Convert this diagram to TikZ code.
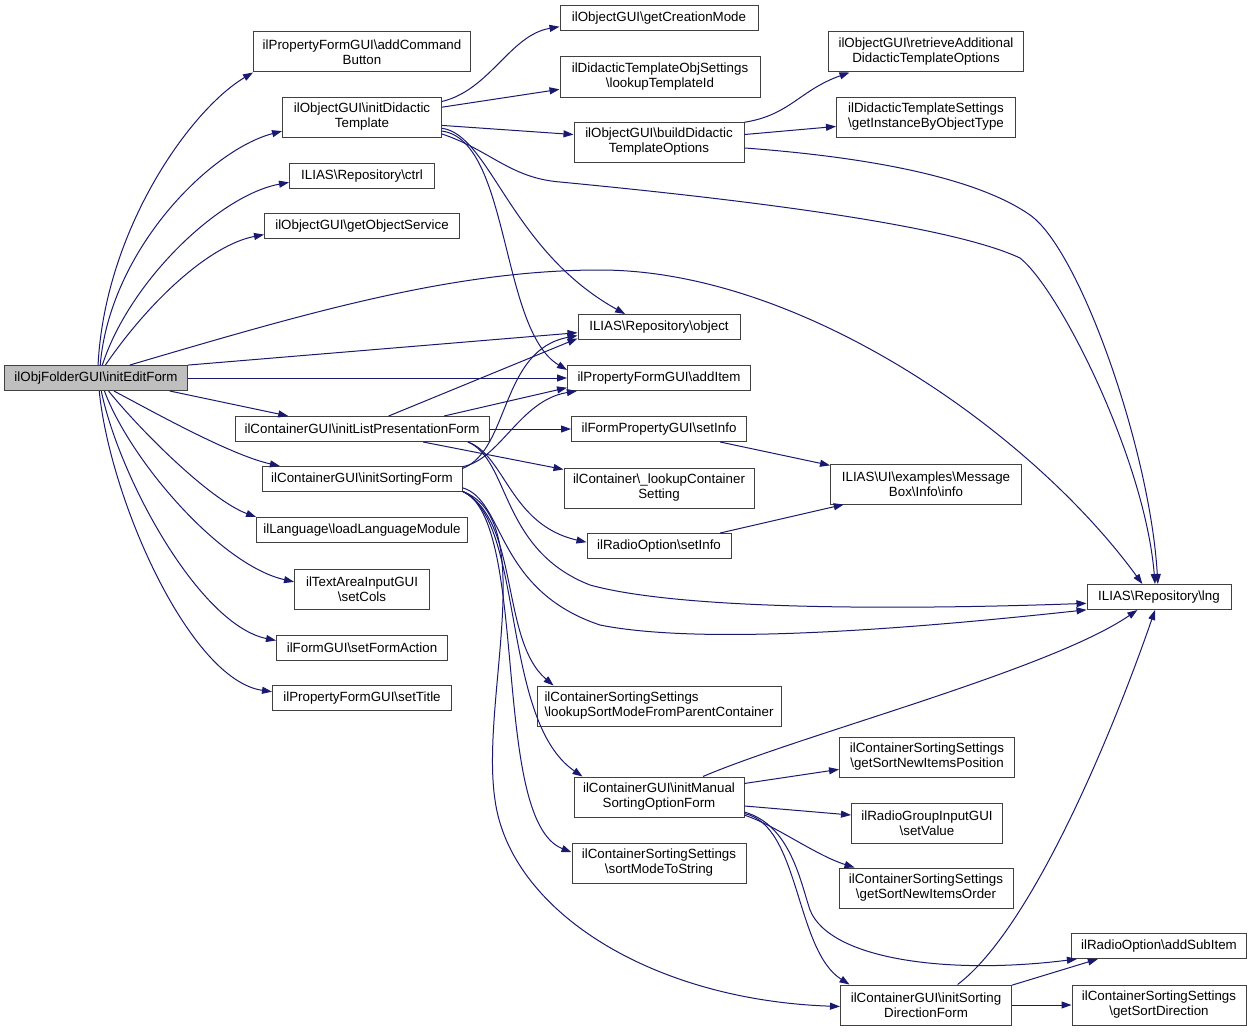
\documentclass[tikz,border=0pt]{standalone}
\usepackage{tikz}
\usepackage{xcolor}
\usepackage{fontspec}
\setmainfont{Liberation Sans}
\usetikzlibrary{arrows.meta}
\definecolor{link}{HTML}{191970}
\definecolor{frame}{HTML}{404040}
\definecolor{shade}{HTML}{BFBFBF}

\begin{document}
\begin{tikzpicture}[x=0.75pt,y=-0.75pt,
		fn/.style={draw=frame,fill=white,line width=0.75pt,inner sep=0pt,align=center,font=\fontsize{10}{11.25}\selectfont,minimum width=#1*0.75pt,minimum height=18.75pt},
		fnn/.style={fn=#1,minimum height=30pt},
		call/.style={draw=link,line width=0.75pt,-{Triangle[length=7.5pt,width=5.25pt]}}]
		\useasboundingbox [fill=white] (0,0) rectangle (1252,1031);
		%
		\node [fn=183,fill=shade] (root) at (96,378) {ilObjFolderGUI\textbackslash initEditForm};
		\node [fnn=217] (cmdbtn) at (362,52) {ilPropertyFormGUI\textbackslash addCommand\\Button};
		\node [fnn=159] (didactic) at (362,117) {ilObjectGUI\textbackslash initDidactic\\Template};
		\node [fn=145] (ctrl) at (362,176) {ILIAS\textbackslash Repository\textbackslash ctrl};
		\node [fn=195] (objsrv) at (362,226) {ilObjectGUI\textbackslash getObjectService};
		\node [fn=254] (listpres) at (362,429) {ilContainerGUI\textbackslash initListPresentationForm};
		\node [fn=200] (sortform) at (362,479) {ilContainerGUI\textbackslash initSortingForm};
		\node [fn=211] (langmod) at (362,530) {ilLanguage\textbackslash loadLanguageModule};
		\node [fnn=135] (setcols) at (362,589) {ilTextAreaInputGUI\\\textbackslash setCols};
		\node [fn=171] (formaction) at (362,648) {ilFormGUI\textbackslash setFormAction};
		\node [fn=179] (settitle) at (362,698) {ilPropertyFormGUI\textbackslash setTitle};
		%
		\node [fn=198] (creation) at (659,18) {ilObjectGUI\textbackslash getCreationMode};
		\node [fnn=200] (tmplid) at (660,77) {ilDidacticTemplateObjSettings\\\textbackslash lookupTemplateId};
		\node [fnn=170] (builddid) at (659,142) {ilObjectGUI\textbackslash buildDidactic\\TemplateOptions};
		\node [fn=162] (object) at (659,327) {ILIAS\textbackslash Repository\textbackslash object};
		\node [fn=183] (additem) at (659,378) {ilPropertyFormGUI\textbackslash addItem};
		\node [fn=175] (setinfo) at (659,429) {ilFormPropertyGUI\textbackslash setInfo};
		\node [fnn=190] (lookupcont) at (659,488) {ilContainer\textbackslash\_lookupContainer\\Setting};
		\node [fn=144] (radioinfo) at (659,546) {ilRadioOption\textbackslash setInfo};
		\node [fnn=244,align=left] (lookupsort) at (659,706) {ilContainerSortingSettings\\\textbackslash lookupSortModeFromParentContainer};
		\node [fnn=170] (manual) at (659,797) {ilContainerGUI\textbackslash initManual\\SortingOptionForm};
		\node [fnn=174] (sortmode) at (659,863) {ilContainerSortingSettings\\\textbackslash sortModeToString};
		%
		\node [fnn=195] (retrieve) at (926,52) {ilObjectGUI\textbackslash retrieveAdditional\\DidacticTemplateOptions};
		\node [fnn=179] (instance) at (926,117) {ilDidacticTemplateSettings\\\textbackslash getInstanceByObjectType};
		\node [fnn=191] (msgbox) at (926,484) {ILIAS\textbackslash UI\textbackslash examples\textbackslash Message\\Box\textbackslash Info\textbackslash info};
		\node [fnn=175] (newpos) at (927,757) {ilContainerSortingSettings\\\textbackslash getSortNewItemsPosition};
		\node [fnn=151] (setvalue) at (927,823) {ilRadioGroupInputGUI\\\textbackslash setValue};
		\node [fnn=174] (neworder) at (926,888) {ilContainerSortingSettings\\\textbackslash getSortNewItemsOrder};
		\node [fnn=171] (direction) at (926,1005) {ilContainerGUI\textbackslash initSorting\\DirectionForm};
		%
		\node [fn=144] (lng) at (1159,597) {ILIAS\textbackslash Repository\textbackslash lng};
		\node [fn=175] (subitem) at (1159,946) {ilRadioOption\textbackslash addSubItem};
		\node [fnn=174] (sortdir) at (1159,1005) {ilContainerSortingSettings\\\textbackslash getSortDirection};
		%
		\draw [call] (root.81) .. controls (105,230) and (190,110) .. (cmdbtn.south west);
		\draw [call] (root.72) .. controls (110,250) and (210,150) .. (didactic.190);
		\draw [call] (root.64) .. controls (130,280) and (220,195) .. (ctrl.185);
		\draw [call] (root.54) .. controls (150,300) and (210,245) .. (objsrv.185);
		\draw [call] (root.21) .. controls (300,315) and (450,270) .. (600,270) .. controls (800,270) and (1030,430) .. (lng.142);
		\draw [call] (root.8) -- (object.184);
		\draw [call] (root) -- (additem);
		\draw [call] (root.-10) -- (listpres.170);
		\draw [call] (root.-36) .. controls (150,410) and (230,455) .. (sortform.171);
		\draw [call] (root.-46) .. controls (140,430) and (210,500) .. (langmod.173);
		\draw [call] (root.-57) .. controls (130,460) and (220,565) .. (setcols.174);
		\draw [call] (root.-68) .. controls (120,480) and (200,625) .. (formaction.175);
		\draw [call] (root.-76) .. controls (110,500) and (190,680) .. (settitle.176);
		%
		\draw [call] (didactic.11) .. controls (490,90) and (510,35) .. (creation.185);
		\draw [call] (didactic.7) -- (tmplid.187);
		\draw [call] (didactic.-6) -- (builddid.175);
		\draw [call] (didactic.-8) .. controls (490,135) and (510,250) .. (object.159);
		\draw [call] (didactic.-10) .. controls (510,140) and (500,330) .. (additem.175);
		\draw [call] (didactic.-12) .. controls (490,150) and (510,178) .. (560,182) .. controls (800,205) and (960,230) .. (1020,258) .. controls (1060,290) and (1145,460) .. (lng.107);
		%
		\draw [call] (builddid.13) .. controls (790,115) and (800,90) .. (retrieve.195);
		\draw [call] (builddid.5) -- (instance.186);
		\draw [call] (builddid.-4) .. controls (880,158) and (980,180) .. (1030,215) .. controls (1080,250) and (1150,450) .. (lng.95);
		%
		\draw [call] (listpres.26) -- (object.188);
		\draw [call] (listpres.9) -- (additem.186);
		\draw [call] (listpres) -- (setinfo);
		\draw [call] (listpres.-12) -- (lookupcont.169);
		\draw [call] (listpres.-7) .. controls (505,455) and (510,525) .. (radioinfo.177);
		\draw [call] (listpres.-7) .. controls (510,460) and (500,550) .. (590,585) .. controls (680,610) and (900,610) .. (lng.185);
		%
		\draw [call] (sortform.6) .. controls (510,450) and (500,350) .. (object.186);
		\draw [call] (sortform.7) .. controls (500,460) and (520,400) .. (additem.189);
		\draw [call] (sortform.-5) .. controls (505,500) and (495,590) .. (600,625) .. controls (700,645) and (900,630) .. (lng.190);
		\draw [call] (sortform.-7) .. controls (520,520) and (500,640) .. (lookupsort.169);
		\draw [call] (sortform.-7) .. controls (525,520) and (500,720) .. (manual.165);
		\draw [call] (sortform.-7) .. controls (530,520) and (490,820) .. (sortmode.173);
		\draw [call] (sortform.-7) .. controls (540,520) and (480,700) .. (495,800) .. controls (510,910) and (650,1000) .. (direction.181);
		%
		\draw [call] (setinfo.-12) -- (msgbox.169);
		\draw [call] (radioinfo.12) -- (msgbox.194);
		%
		\draw [call] (manual.25) .. controls (800,735) and (1050,670) .. (lng.211);
		\draw [call] (manual.9) -- (newpos.188);
		\draw [call] (manual.-6) -- (setvalue.174);
		\draw [call] (manual.-12) .. controls (775,825) and (815,855) .. (neworder.164);
		\draw [call] (manual.-10) .. controls (790,825) and (800,880) .. (810,910) .. controls (830,960) and (950,975) .. (subitem.189);
		\draw [call] (manual.-11) .. controls (800,825) and (795,950) .. (direction.165);
		%
		\draw [call] (direction.33) .. controls (1030,930) and (1110,740) .. (lng.253);
		\draw [call] (direction.13) -- (subitem.192);
		\draw [call] (direction) -- (sortdir);
	\end{tikzpicture}
\end{document}
